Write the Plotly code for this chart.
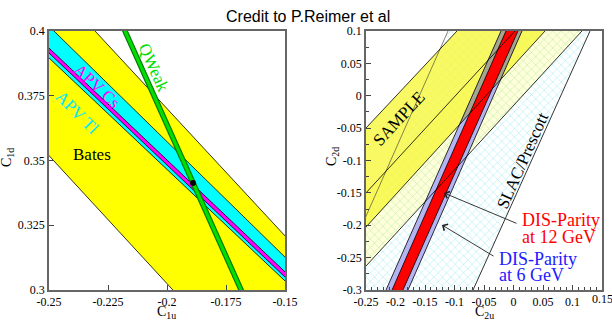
import plotly.graph_objects as go

W, H = 612, 323

# ---------------- Left panel: C1u (x) vs C1d (y) ----------------
c1u_ticks = [-0.25, -0.225, -0.2, -0.175, -0.15]
c1u_ticktext = ['-0.25', '-0.225', '-0.2', '-0.175', '-0.15']
c1d_ticks = [0.3, 0.325, 0.35, 0.375, 0.4]
c1d_ticktext = ['0.3', '0.325', '0.35', '0.375', '0.4']

# boundary lines, each given by two points [x1, y1, x2, y2]
bates_upper = [-0.2305, 0.4, -0.15, 0.3209]
bates_lower = [-0.2483, 0.3502, -0.1975, 0.3]
apv_tl_upper = [-0.2479, 0.4, -0.15, 0.3127]
apv_tl_lower = [-0.25, 0.3896, -0.15, 0.3035]
apv_cs_upper = [-0.25, 0.3934, -0.15, 0.3070]
apv_cs_lower = [-0.25, 0.3915, -0.15, 0.3050]
qweak_center = [-0.2178, 0.4, -0.1686, 0.3]
qweak_halfwidth = 0.0010
sm_point_x = [-0.189]
sm_point_y = [0.3413]

# ---------------- Right panel: C2u (x) vs C2d (y) ----------------
c2u_ticks = [-0.25, -0.2, -0.15, -0.1, -0.05, 0, 0.05, 0.1, 0.15]
c2u_ticktext = ['-0.25', '-0.2', '-0.15', '-0.1', '-0.05', '0', '0.05', '0.1', '0.15']
c2d_ticks = [-0.3, -0.25, -0.2, -0.15, -0.1, -0.05, 0, 0.05, 0.1]
c2d_ticktext = ['-0.3', '-0.25', '-0.2', '-0.15', '-0.1', '-0.05', '0', '0.05', '0.1']
c2u_minor = [-0.25 + 0.01 * i for i in range(41)]
c2d_minor = [-0.3 + 0.025 * i for i in range(17)]

slac_left = [-0.111, 0.1, -0.25, -0.186]
slac_right = [0.1297, 0.1, -0.0686, -0.3]
hatch_upper = [-0.25, -0.150, 0.0025, 0.1]
hatch_lower = [-0.25, -0.263, 0.1161, 0.1]
sample_upper = [-0.25, -0.0498, -0.0958, 0.1]
sample_lower = [-0.25, -0.2027, 0.0534, 0.1]
dis6_left = [-0.0212, 0.1, -0.2161, -0.3]
dis6_right = [0.0144, 0.1, -0.1788, -0.3]
dis12_left = [-0.0127, 0.1, -0.2059, -0.3]
dis12_right = [0.0076, 0.1, -0.1873, -0.3]

arrow12 = [-0.1178, -0.1502, 0.0076, -0.198]   # head x, head y, tail x, tail y
arrow6 = [-0.1212, -0.1996, -0.0314, -0.249]


def ext(line, t):
    x1, y1, x2, y2 = line
    return (x1 + t * (x2 - x1), y1 + t * (y2 - y1))


def band(a, b, t0=-4.0, t1=5.0):
    return [ext(a, t0), ext(a, t1), ext(b, t1), ext(b, t0)]


def seg(line, t0=-4.0, t1=5.0):
    return [ext(line, t0), ext(line, t1)]


def area(poly):
    s = 0
    for i in range(len(poly)):
        x1, y1 = poly[i]
        x2, y2 = poly[(i + 1) % len(poly)]
        s += x1 * y2 - x2 * y1
    return s / 2


def clip(subject, clipper):
    sign = 1 if area(clipper) > 0 else -1
    out = subject
    for i in range(len(clipper)):
        ax, ay = clipper[i]
        bx, by = clipper[(i + 1) % len(clipper)]

        def inside(p):
            return sign * ((bx - ax) * (p[1] - ay) - (by - ay) * (p[0] - ax)) >= 0

        def inter(p, q):
            x1, y1 = p
            x2, y2 = q
            dx, dy = x2 - x1, y2 - y1
            ex, ey = bx - ax, by - ay
            den = dx * ey - dy * ex
            t = ((ax - x1) * ey - (ay - y1) * ex) / den
            return (x1 + t * dx, y1 + t * dy)

        inp = out
        out = []
        for j in range(len(inp)):
            cur = inp[j]
            prev = inp[j - 1]
            if inside(cur):
                if not inside(prev):
                    out.append(inter(prev, cur))
                out.append(cur)
            elif inside(prev):
                out.append(inter(prev, cur))
    return out


fig = go.Figure()


def poly_trace(pts, xa, ya, fillcolor, pattern=None):
    xs = [p[0] for p in pts] + [pts[0][0]]
    ys = [p[1] for p in pts] + [pts[0][1]]
    kw = {}
    if pattern is not None:
        kw['fillpattern'] = pattern
    fig.add_trace(go.Scatter(x=xs, y=ys, xaxis=xa, yaxis=ya, mode='lines', fill='toself',
                             fillcolor=fillcolor, line=dict(color='rgba(0,0,0,0)', width=0),
                             hoverinfo='skip', showlegend=False, **kw))


def line_trace(line, xa, ya, color='black', width=1):
    pts = seg(line)
    fig.add_trace(go.Scatter(x=[p[0] for p in pts], y=[p[1] for p in pts], xaxis=xa, yaxis=ya,
                             mode='lines', line=dict(color=color, width=width),
                             hoverinfo='skip', showlegend=False))


# ----- left panel -----
poly_trace(band(bates_upper, bates_lower), 'x', 'y', '#ffff00')
poly_trace(band(apv_tl_upper, apv_tl_lower), 'x', 'y', '#00ffff')
poly_trace(band(apv_cs_upper, apv_cs_lower), 'x', 'y', '#ff00ff')
for ln in (bates_upper, bates_lower, apv_tl_upper, apv_tl_lower, apv_cs_upper, apv_cs_lower):
    line_trace(ln, 'x', 'y', 'black', 0.8)
qx1, qy1, qx2, qy2 = qweak_center
q_left = [qx1 - qweak_halfwidth, qy1, qx2 - qweak_halfwidth, qy2]
q_right = [qx1 + qweak_halfwidth, qy1, qx2 + qweak_halfwidth, qy2]
poly_trace(band(q_left, q_right), 'x', 'y', '#00e000')
line_trace(q_left, 'x', 'y', '#007a00', 1.2)
line_trace(q_right, 'x', 'y', '#007a00', 1.2)
fig.add_trace(go.Scatter(x=sm_point_x, y=sm_point_y, xaxis='x', yaxis='y', mode='markers',
                         marker=dict(color='black', size=6), hoverinfo='skip', showlegend=False))

# ----- right panel -----
poly_trace(band(slac_left, slac_right), 'x2', 'y2', 'white',
           pattern=dict(shape='x', size=6, solidity=0.12, fgcolor='rgb(120,225,235)',
                        bgcolor='white'))
poly_trace(band(hatch_upper, hatch_lower), 'x2', 'y2', 'rgba(255,255,150,0.35)',
           pattern=dict(shape='x', size=6, solidity=0.12, fgcolor='rgba(215,235,120,0.8)',
                        bgcolor='rgba(255,255,150,0.35)'))
sample_poly = band(sample_upper, sample_lower)
poly_trace(sample_poly, 'x2', 'y2', 'rgba(248,248,60,0.8)')
dis6_poly = band(dis6_left, dis6_right)
poly_trace(dis6_poly, 'x2', 'y2', '#b4b4f2')
gray_poly = clip(dis6_poly, sample_poly)
if len(gray_poly) >= 3:
    poly_trace(gray_poly, 'x2', 'y2', '#a6a590')
poly_trace(band(dis12_left, dis12_right), 'x2', 'y2', '#ff0000')
line_trace(slac_left, 'x2', 'y2', '#333333', 0.6)
for ln in (slac_right, hatch_upper, hatch_lower, sample_upper, sample_lower,
           dis6_left, dis6_right, dis12_left, dis12_right):
    line_trace(ln, 'x2', 'y2', 'black', 0.8)

# ----- axes -----
tick_font = dict(family='Liberation Serif', size=12, color='black')
axis_common = dict(showgrid=False, zeroline=False, showline=True, mirror=True,
                   linecolor='#666666', linewidth=1.5, ticks='inside', ticklen=5,
                   tickcolor='#444444', tickwidth=1, automargin=False,
                   ticklabeloverflow='allow', tickfont=tick_font)
y_dom = [1 - 290 / H, 1 - 31 / H]
# the last C2u label sits at the very page edge; plotly drops it, so it is drawn as an annotation
c2u_axis_text = c2u_ticktext[:-1] + ['']
fig.update_layout(
    template='none',
    width=W, height=H, margin=dict(l=0, r=0, t=0, b=0, pad=0, autoexpand=False),
    paper_bgcolor='white', plot_bgcolor='white', showlegend=False,
    xaxis=dict(domain=[49 / W, 285 / W], range=[-0.25, -0.15], tickmode='array',
               tickvals=c1u_ticks, ticktext=c1u_ticktext, anchor='y', **axis_common),
    yaxis=dict(domain=y_dom, range=[0.3, 0.4], tickmode='array',
               tickvals=c1d_ticks, ticktext=c1d_ticktext, anchor='x', **axis_common),
    xaxis2=dict(domain=[366 / W, 602 / W], range=[-0.25, 0.15], tickmode='array',
                tickvals=c2u_ticks, ticktext=c2u_axis_text, anchor='y2',
                minor=dict(tickvals=c2u_minor, ticks='inside', ticklen=3, tickcolor='#444444'),
                **axis_common),
    yaxis2=dict(domain=y_dom, range=[-0.3, 0.1], tickmode='array',
                tickvals=c2d_ticks, ticktext=c2d_ticktext, anchor='x2',
                minor=dict(tickvals=c2d_minor, ticks='inside', ticklen=3, tickcolor='#444444'),
                **axis_common),
)

serif = 'Liberation Serif'
ann = []
ann.append(dict(text=c2u_ticktext[-1], xref='x2', yref='paper', x=c2u_ticks[-1], y=1 - 299 / H,
                showarrow=False, font=tick_font, xanchor='center', yanchor='middle'))
ann.append(dict(text='Credit to P.Reimer et al', xref='paper', yref='paper', x=308 / W, y=1 - 17 / H,
                showarrow=False, font=dict(family='Liberation Sans', size=16, color='black'),
                xanchor='center', yanchor='middle'))
# axis titles
ann.append(dict(text='C<sub>1u</sub>', xref='paper', yref='paper', x=167 / W, y=1 - 312 / H,
                showarrow=False, font=dict(family=serif, size=14, color='black'),
                xanchor='center', yanchor='middle'))
ann.append(dict(text='C<sub>2u</sub>', xref='paper', yref='paper', x=484 / W, y=1 - 312 / H,
                showarrow=False, font=dict(family=serif, size=14, color='black'),
                xanchor='center', yanchor='middle'))
ann.append(dict(text='C<sub>1d</sub>', xref='paper', yref='paper', x=7 / W, y=1 - 157 / H,
                showarrow=False, textangle=-90, font=dict(family=serif, size=14, color='black'),
                xanchor='center', yanchor='middle'))
ann.append(dict(text='C<sub>2d</sub>', xref='paper', yref='paper', x=332 / W, y=1 - 157 / H,
                showarrow=False, textangle=-90, font=dict(family=serif, size=14, color='black'),
                xanchor='center', yanchor='middle'))
# left panel labels
ann.append(dict(text='QWeak', xref='x', yref='y', x=-0.2055, y=0.3861, textangle=66,
                showarrow=False, font=dict(family=serif, size=17, color='#00dd00')))
ann.append(dict(text='APV Cs', xref='x', yref='y', x=-0.2295, y=0.3786, textangle=43,
                showarrow=False, font=dict(family=serif, size=17, color='#ff00ff')))
ann.append(dict(text='APV Tl', xref='x', yref='y', x=-0.2381, y=0.3687, textangle=45,
                showarrow=False, font=dict(family=serif, size=17, color='#00e8ff')))
ann.append(dict(text='Bates', xref='x', yref='y', x=-0.2316, y=0.3523,
                showarrow=False, font=dict(family=serif, size=17, color='black')))
# right panel labels
ann.append(dict(text='SAMPLE', xref='x2', yref='y2', x=-0.1941, y=-0.0344, textangle=-47,
                showarrow=False, font=dict(family=serif, size=17, color='black')))
ann.append(dict(text='SLAC/Prescott', xref='x2', yref='y2', x=0.0144, y=-0.1008, textangle=-66,
                showarrow=False, font=dict(family=serif, size=17, color='black')))
for txt, yy in (('DIS-Parity', -0.1919), ('at 12 GeV', -0.2181)):
    ann.append(dict(text=txt, xref='x2', yref='y2', x=0.011, y=yy, xanchor='left', yanchor='middle',
                    showarrow=False, font=dict(family=serif, size=18, color='#ff0000')))
for txt, yy in (('DIS-Parity', -0.2514), ('at 6 GeV', -0.2761)):
    ann.append(dict(text=txt, xref='x2', yref='y2', x=-0.028, y=yy, xanchor='left', yanchor='middle',
                    showarrow=False, font=dict(family=serif, size=18, color='#2020ff')))
for a in (arrow12, arrow6):
    ann.append(dict(text='', xref='x2', yref='y2', axref='x2', ayref='y2', x=a[0], y=a[1],
                    ax=a[2], ay=a[3], showarrow=True, arrowhead=4, arrowsize=1.6,
                    arrowwidth=0.9, arrowcolor='#222222', standoff=0))
fig.update_layout(annotations=ann)

fig.write_html('out.html', config={'displayModeBar': False},
               post_script="document.body.style.margin='0px';document.body.style.overflow='hidden';")
